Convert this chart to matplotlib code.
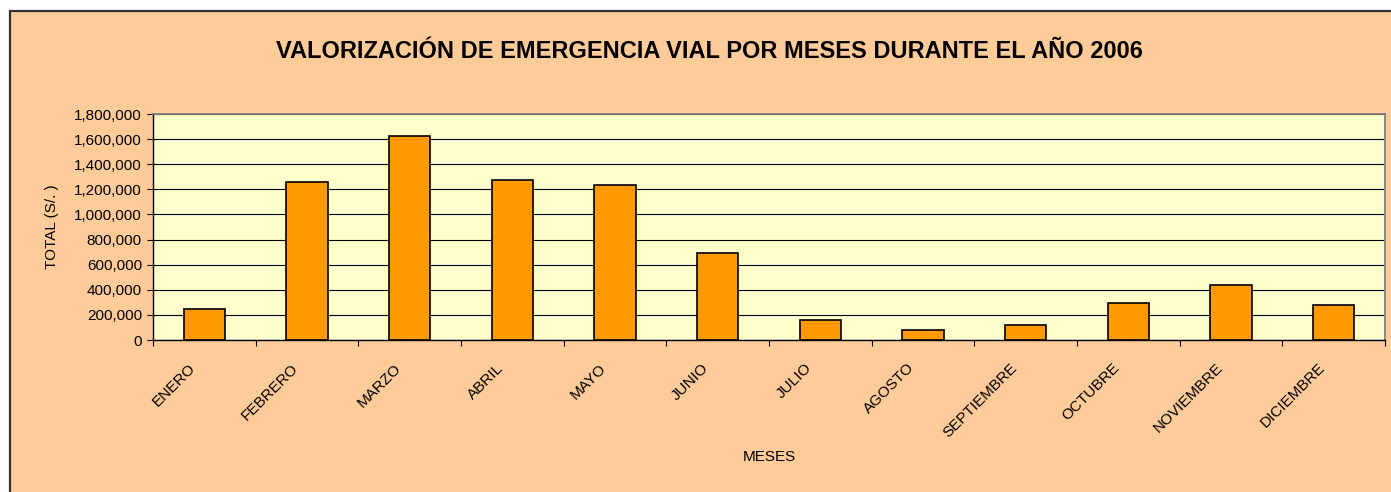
import matplotlib
matplotlib.use("Agg")
import matplotlib.pyplot as plt
import matplotlib.transforms as mtransforms
from matplotlib.patches import Rectangle
from matplotlib.ticker import FuncFormatter, FixedLocator

# Chart data
months = ["ENERO", "FEBRERO", "MARZO", "ABRIL", "MAYO", "JUNIO",
          "JULIO", "AGOSTO", "SEPTIEMBRE", "OCTUBRE", "NOVIEMBRE", "DICIEMBRE"]
totals = [250000, 1262000, 1627000, 1274000, 1234000, 695000,
          162000, 82000, 122000, 297000, 435000, 276000]
y_ticks = [0, 200000, 400000, 600000, 800000, 1000000, 1200000, 1400000, 1600000, 1800000]

title = "VALORIZACIÓN DE EMERGENCIA VIAL POR MESES DURANTE EL AÑO 2006"
x_label = "MESES"
y_label = "TOTAL (S/. )"

# Colours in the old spreadsheet style
chart_bg = "#FFCC99"
plot_bg = "#FFFFCC"
bar_color = "#FF9900"

plt.rcParams["font.family"] = ["Liberation Sans", "DejaVu Sans"]

W, H = 1391, 492
fig = plt.figure(figsize=(W / 100, H / 100), dpi=100)
fig.patch.set_facecolor("white")

# Chart area: peach box with a dark border, running off the right and bottom
fig.patches.append(Rectangle((10 / W, -0.2), 1.2, 1 - 11 / H + 0.2,
                             transform=fig.transFigure, facecolor=chart_bg,
                             edgecolor="#333333", linewidth=1.6, zorder=-5))

# Plot area in pixel positions
left, right, top, bottom = 153, 1385, 114, 340
ax = fig.add_axes([left / W, 1 - bottom / H, (right - left) / W, (bottom - top) / H])
ax.set_zorder(1)
ax.set_facecolor(plot_bg)

x = list(range(len(months)))
ax.bar(x, totals, width=0.4, color=bar_color, edgecolor="black", linewidth=1.2, zorder=3)

ax.set_xlim(-0.5, len(months) - 0.5)
ax.set_ylim(0, 1800000)
ax.set_yticks(y_ticks)
ax.yaxis.set_major_formatter(FuncFormatter(lambda v, p: f"{int(v):,}"))
ax.grid(axis="y", color="black", linewidth=0.8, zorder=1)
ax.set_axisbelow(True)

for side in ["top", "right"]:
    ax.spines[side].set_color("#808080")
    ax.spines[side].set_linewidth(1.3)
for side in ["left", "bottom"]:
    ax.spines[side].set_color("black")
    ax.spines[side].set_linewidth(1.0)

ax.tick_params(axis="y", direction="out", length=4, width=0.8, labelsize=11, pad=4)

# Category labels at bar centres, tick marks at category boundaries
ax.set_xticks(x)
ax.set_xticklabels(months, rotation=45, ha="right", va="top", fontsize=11)
ax.tick_params(axis="x", which="major", length=0, pad=15)
ax.xaxis.set_minor_locator(FixedLocator([i - 0.5 for i in range(len(months) + 1)]))
ax.tick_params(axis="x", which="minor", direction="out", length=4, width=0.8)
shift = mtransforms.ScaledTranslation(-6 / 100, 0, fig.dpi_scale_trans)
for lbl in ax.get_xticklabels():
    lbl.set_transform(lbl.get_transform() + shift)

fig.text(709.5 / W, 1 - 52 / H, title, ha="center", va="center",
         fontsize=17, fontweight="bold")
fig.text(769 / W, 1 - 457 / H, x_label, ha="center", va="center", fontsize=11)
fig.text(52 / W, 1 - 227 / H, y_label, ha="center", va="center",
         rotation=90, fontsize=11)

fig.savefig("out.png", dpi=100)
